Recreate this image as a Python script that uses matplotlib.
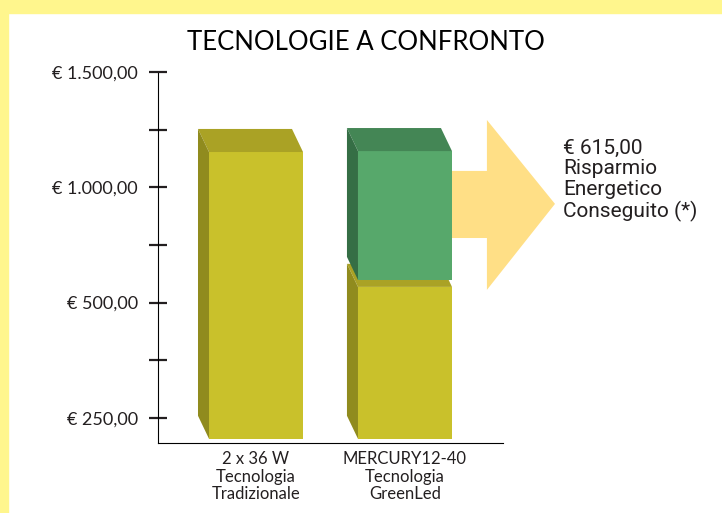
import matplotlib
matplotlib.use('Agg')
import matplotlib.pyplot as plt
from matplotlib.patches import Polygon, Rectangle

# values (axis units in euro, 0 = "€ 250,00" tick)
categories = ['2 x 36 W\nTecnologia\nTradizionale', 'MERCURY12-40\nTecnologia\nGreenLed']
bar_base = -91
consumo = [1153, 568]          # yellow block top
risparmio_da = [None, 598]     # green block bottom
risparmio_a = [None, 1157]     # green block top
tick_vals = [0, 250, 500, 750, 1000, 1250, 1500]
tick_labels = ['€ 250,00', '', '€ 500,00', '', '€ 1.000,00', '', '€ 1.500,00']
nota = '€ 615,00\nRisparmio\nEnergetico\nConseguito (*)'

yellow = ('#C9C12B', '#AAA225', '#908B1E')
green = ('#57A86B', '#448655', '#356E45')

W, H = 722, 513
fig = plt.figure(figsize=(W / 100, H / 100), dpi=100)
fig.patch.set_facecolor('white')
# yellow frame strips
fig.add_artist(Rectangle((0, 0), 8 / W, 1, transform=fig.transFigure, color='#FFF68D', zorder=0))
fig.add_artist(Rectangle((0, 1 - 13 / H), 1, 13 / H, transform=fig.transFigure, color='#FFF68D', zorder=0))

ax = fig.add_axes([158 / W, (H - 443) / H, (503 - 158) / W, (443 - 72) / H])
ax.set_xlim(-0.658, 1.658)
ax.set_ylim(-109, 1500)
ax.set_facecolor('none')

w = 0.631
dx, dy = -0.074, 100


def box(c, y0, y1, cols, z):
    l, r = c - w / 2, c + w / 2
    ax.add_patch(Polygon([(l, y0), (r, y0), (r, y1), (l, y1)], closed=True,
                         fc=cols[0], ec='none', zorder=z))
    ax.add_patch(Polygon([(l, y1), (r, y1), (r + dx, y1 + dy), (l + dx, y1 + dy)], closed=True,
                         fc=cols[1], ec='none', zorder=z, clip_on=False))
    ax.add_patch(Polygon([(l, y0), (l, y1), (l + dx, y1 + dy), (l + dx, y0 + dy)], closed=True,
                         fc=cols[2], ec='none', zorder=z))


# arrow behind the green block
ax.add_patch(Polygon([(1.25, 780), (1.55, 780), (1.55, 555), (2.007, 928),
                      (1.55, 1292), (1.55, 1071), (1.25, 1071)], closed=True,
                     fc='#FFDF86', ec='none', zorder=1, clip_on=False))

for i in range(len(categories)):
    box(i, bar_base, consumo[i], yellow, 2 + i)
    if risparmio_a[i] is not None:
        box(i, risparmio_da[i], risparmio_a[i], green, 4)

ax.set_yticks(tick_vals)
ax.set_yticklabels(tick_labels, fontsize=13, family=['Lato', 'DejaVu Sans'], color='#231F20')
ax.tick_params(axis='y', direction='inout', length=13, width=1.6, pad=8, color='#231F20')
ax.set_xticks([0, 1])
ax.set_xticklabels(categories, fontsize=12, family=['Lato', 'DejaVu Sans'], color='#231F20',
                   linespacing=1.12)
ax.tick_params(axis='x', length=0, pad=6)

for s in ['top', 'right']:
    ax.spines[s].set_visible(False)
for s in ['left', 'bottom']:
    ax.spines[s].set_linestyle((0, (1, 1)))
    ax.spines[s].set_linewidth(0.8)

fig.text(366 / W, 1 - 43 / H, 'TECNOLOGIE A CONFRONTO', ha='center', va='center',
         fontsize=18.5, family=['Lato', 'DejaVu Sans'], color='black')
ax.text(2.06, 1212, nota, ha='left', va='top', fontsize=15,
        family=['Roboto', 'DejaVu Sans'], color='#231F20', linespacing=1.12)

fig.savefig('out.png', dpi=100)
